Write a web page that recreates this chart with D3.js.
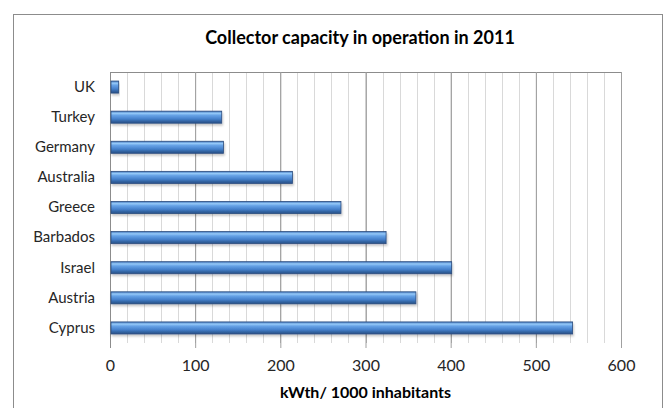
<!DOCTYPE html>
<html>
<head>
<meta charset="utf-8">
<script src="https://cdn.jsdelivr.net/npm/d3@7/dist/d3.min.js"></script>
<style>
  body { margin: 0; background: #fff; }
  text { font-family: Lato, "Open Sans", sans-serif; }
</style>
</head>
<body>
<div id="chart-area"></div>
<script>
// data (top to bottom)
let countries = ["UK", "Turkey", "Germany", "Australia", "Greece", "Barbados", "Israel", "Austria", "Cyprus"]
let capacity = [9, 130, 132, 213, 270, 323, 400, 358, 542]
let xTicks = [0, 100, 200, 300, 400, 500, 600]
let chartTitle = "Collector capacity in operation in 2011"
let xTitle = "kWth/ 1000 inhabitants"

let bd = countries.map((c, i) => ({country: c, value: capacity[i]}))

let MARGIN = {LEFT: 110, RIGHT: 43, TOP: 72, BOTTOM: 65}
let WIDTH = 664 - MARGIN.LEFT - MARGIN.RIGHT
let HEIGHT = 408 - MARGIN.TOP - MARGIN.BOTTOM

let svg = d3.select("#chart-area").append("svg")
    .attr("width", 664)
    .attr("height", 408)

// bar gradient, bevelled look
let defs = svg.append("defs")
let grad = defs.append("linearGradient")
    .attr("id", "barGrad")
    .attr("x1", 0).attr("y1", 0).attr("x2", 0).attr("y2", 1)
grad.append("stop").attr("offset", "0%").attr("stop-color", "#4276bd")
grad.append("stop").attr("offset", "18%").attr("stop-color", "#95c9f8")
grad.append("stop").attr("offset", "35%").attr("stop-color", "#66a2e6")
grad.append("stop").attr("offset", "65%").attr("stop-color", "#4580cb")
grad.append("stop").attr("offset", "85%").attr("stop-color", "#31629f")
grad.append("stop").attr("offset", "100%").attr("stop-color", "#29518a")

let shadow = defs.append("filter").attr("id", "shadow")
    .attr("x", "-5%").attr("y", "-30%").attr("width", "110%").attr("height", "180%")
shadow.append("feDropShadow")
    .attr("dx", 1).attr("dy", 2).attr("stdDeviation", 1.2)
    .attr("flood-color", "#000").attr("flood-opacity", 0.22)

// outer chart border
svg.append("rect")
    .attr("x", 13.5).attr("y", 14.5)
    .attr("width", 649).attr("height", 400)
    .attr("fill", "none")
    .attr("stroke", "#8c8c8c")
    .attr("stroke-width", 1)

let g = svg.append("g")
    .attr("transform", `translate(${MARGIN.LEFT}, ${MARGIN.TOP})`)

let x = d3.scaleLinear()
    .domain([0, 600])
    .range([0, WIDTH])

let y = d3.scaleBand()
    .domain(countries)
    .range([0, HEIGHT])
    .paddingInner(0.6)
    .paddingOuter(0.3)

// minor gridlines every 20
let minor = d3.range(20, 600, 20).filter(v => v % 100 !== 0)
g.selectAll(".minor")
    .data(minor)
    .enter().append("line")
    .attr("class", "minor")
    .attr("x1", d => Math.round(x(d)) + 0.5)
    .attr("x2", d => Math.round(x(d)) + 0.5)
    .attr("y1", 0)
    .attr("y2", HEIGHT)
    .attr("stroke", "#d9d9d9")
    .attr("stroke-width", 1)

// major gridlines
g.selectAll(".major")
    .data(xTicks.slice(1))
    .enter().append("line")
    .attr("class", "major")
    .attr("x1", d => Math.round(x(d)) + 0.5)
    .attr("x2", d => Math.round(x(d)) + 0.5)
    .attr("y1", 0)
    .attr("y2", HEIGHT)
    .attr("stroke", "#b0b0b0")
    .attr("stroke-width", 1)

// plot top border
g.append("line")
    .attr("x1", 0).attr("x2", WIDTH)
    .attr("y1", 0.5).attr("y2", 0.5)
    .attr("stroke", "#8c8c8c")

// x axis
let xAxisCall = d3.axisBottom(x)
    .tickValues(xTicks)
    .tickSize(5)
    .tickPadding(12)
    .tickFormat(d => d)
let xAxis = g.append("g")
    .attr("class", "x axis")
    .attr("transform", `translate(0, ${HEIGHT})`)
    .call(xAxisCall)
xAxis.select(".domain").remove()
xAxis.selectAll("line").attr("stroke", "#a0a0a0")
    .attr("y1", -HEIGHT)
xAxis.selectAll("text")
    .attr("font-size", "16px")
    .attr("fill", "#262626")
    .attr("font-family", "Lato, sans-serif")

// y axis
let yAxisCall = d3.axisLeft(y)
    .tickSize(0)
    .tickPadding(15)
let yAxis = g.append("g")
    .attr("class", "y axis")
    .call(yAxisCall)
yAxis.select(".domain")
    .attr("stroke", "#8c8c8c")
    .attr("d", `M0.5,0V${HEIGHT + 5}`)
yAxis.selectAll("text")
    .attr("font-size", "15px")
    .attr("fill", "#262626")
    .attr("font-family", "Lato, sans-serif")

// bars
g.selectAll(".bar")
    .data(bd)
    .enter().append("rect")
    .attr("class", "bar")
    .attr("x", x(0) + 1)
    .attr("y", d => y(d.country))
    .attr("width", d => x(d.value) - x(0))
    .attr("height", y.bandwidth())
    .attr("fill", "url(#barGrad)")
    .attr("stroke", "#2b4c7e")
    .attr("stroke-width", 0.8)
    .attr("filter", "url(#shadow)")

// title
svg.append("text")
    .attr("x", 360)
    .attr("y", 44)
    .attr("text-anchor", "middle")
    .attr("font-size", "18px")
    .attr("font-weight", "bold")
    .attr("fill", "#000")
    .text(chartTitle)

// x label
g.append("text")
    .attr("x", x(300))
    .attr("y", HEIGHT + 55)
    .attr("text-anchor", "middle")
    .attr("font-size", "16px")
    .attr("font-weight", "bold")
    .attr("fill", "#000")
    .text(xTitle)
</script>
</body>
</html>
